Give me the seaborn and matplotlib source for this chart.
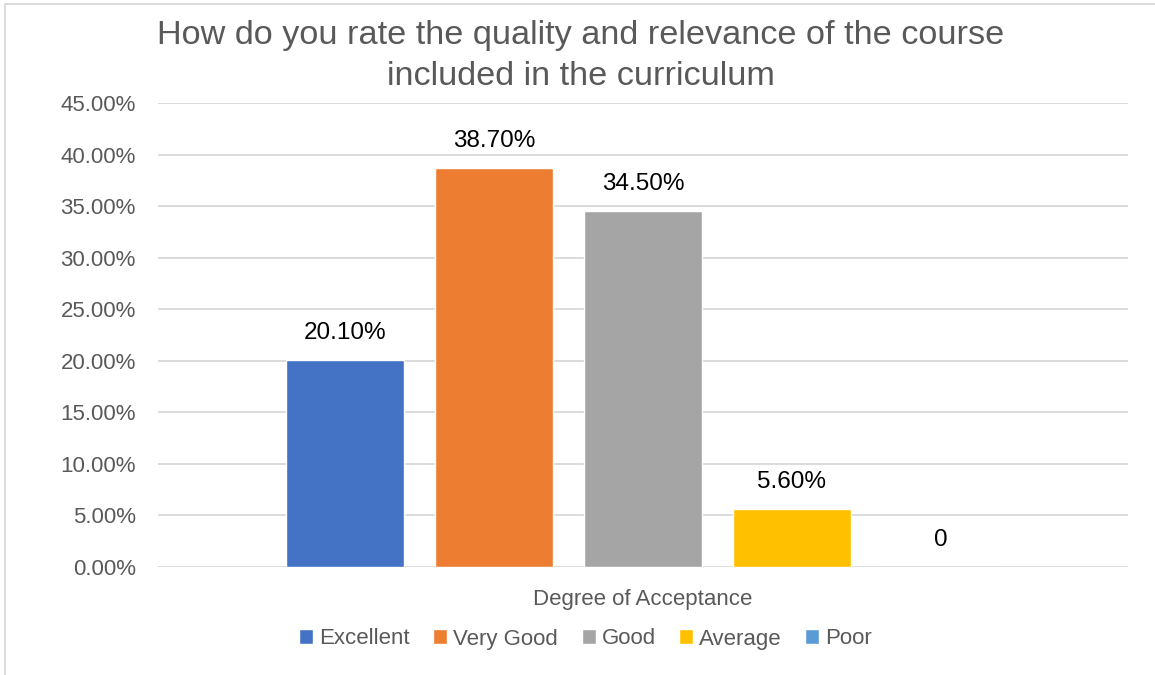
import numpy as np
import pandas as pd
import matplotlib
matplotlib.use("Agg")
import matplotlib.pyplot as plt
from matplotlib.patches import Rectangle
from matplotlib.ticker import FuncFormatter, MultipleLocator
import seaborn as sns

# Data
group = "Degree of Acceptance"
series = ["Excellent", "Very Good", "Good", "Average", "Poor"]
values = [0.201, 0.387, 0.345, 0.056, 0.0]
colors = ["#4472C4", "#ED7D31", "#A5A5A5", "#FFC000", "#5B9BD5"]
title = "How do you rate the quality and relevance of the course\nincluded in the curriculum"

df = pd.DataFrame({"group": group, "series": series, "value": values})

sns.set_theme(style="white")
plt.rcParams["font.family"] = ["Liberation Sans", "DejaVu Sans"]
gray = "#595959"

fig = plt.figure(figsize=(11.55, 6.75), dpi=100)
ax = fig.add_axes([158 / 1155, 1 - 567 / 675, 970 / 1155, 464 / 675])

sns.barplot(data=df, x="group", y="value", hue="series", hue_order=series,
            palette=colors, width=0.768, gap=0.208, ax=ax, saturation=1)

handles, labels = ax.get_legend_handles_labels()
ax.get_legend().remove()

# data labels
for cont, v in zip(ax.containers, values):
    bar = cont[0]
    txt = "0" if v == 0 else f"{v * 100:.2f}%"
    ax.annotate(txt, (bar.get_x() + bar.get_width() / 2, bar.get_height()),
                xytext=(0, 19.5), textcoords="offset points",
                ha="center", va="center", fontsize=17.5, color="#000000")

ax.set_ylim(0, 0.45)
ax.set_xlim(-0.5, 0.5)
ax.yaxis.set_major_locator(MultipleLocator(0.05))
ax.yaxis.set_major_formatter(FuncFormatter(lambda y, _: f"{y * 100:.2f}%"))
ax.grid(axis="y", color="#D9D9D9", linewidth=1.3)
ax.set_axisbelow(True)
for s in ax.spines.values():
    s.set_visible(False)
ax.tick_params(axis="y", length=0, pad=16, labelsize=16, labelcolor=gray)
ax.tick_params(axis="x", length=0, pad=16, labelsize=16, labelcolor=gray)
ax.set_xlabel("")
ax.set_ylabel("")

fig.text(0.503, 1 - 56 / 675, title, ha="center", va="center",
         fontsize=24.7, color=gray, linespacing=1.45)

leg = fig.legend(handles, labels, loc="center", bbox_to_anchor=(0.507, 1 - 639 / 675),
                 ncol=5, frameon=False, fontsize=16, labelcolor=gray,
                 handlelength=0.63, handleheight=0.63, handletextpad=0.27,
                 columnspacing=1.05)

# chart border
fig.patches.append(Rectangle((5 / 1155, -0.1), 1.2, 1 - 4 / 675 + 0.1,
                             transform=fig.transFigure, fill=False,
                             edgecolor="#D9D9D9", linewidth=1.3))

fig.savefig("out.png", dpi=100)
